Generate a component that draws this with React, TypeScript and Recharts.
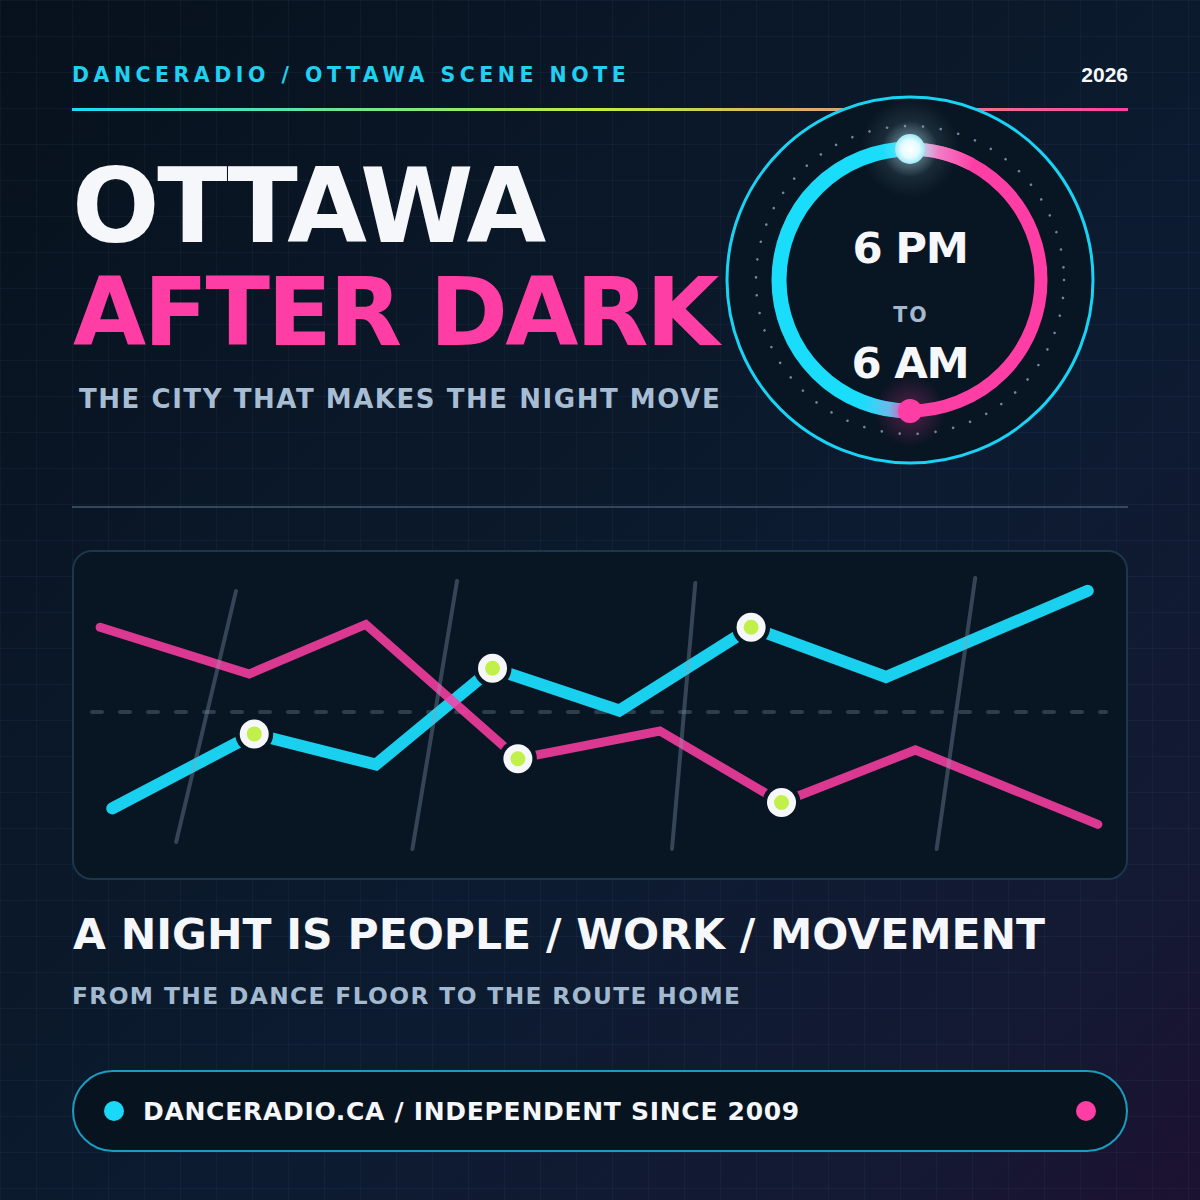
import { LineChart, Line, XAxis, YAxis, ReferenceLine } from "recharts";

// chart values (x: position through the night 0-100, y: activity level 0-100)
const cyanX = [2, 16, 28, 39.5, 52, 65, 78.3, 98.2];
const cyanY = [17, 42.5, 32, 65, 50.5, 79, 62, 91.5];
const pinkX = [0.8, 15.5, 27, 42, 56, 68, 81.2, 99.2];
const pinkY = [79, 63, 80, 34, 43.5, 19, 37, 11.5];
const cyanMarks = [1, 3, 5];
const pinkMarks = [3, 5];
const midLevel = 50;

// decorative slashes behind the lines
const slashTopX = [14.2, 36.0, 59.5, 87.1];
const slashTopY = [91.4, 94.9, 94.2, 95.9];
const slashBottomX = [8.3, 31.6, 57.2, 83.3];
const slashBottomY = [5.5, 3.1, 3.1, 3.1];

const CYAN = "#1ad0ef";
const PINK = "#ff3ea5";
const PANEL = "#081522";
const FONT = '"DejaVu Sans", Verdana, sans-serif';
const FONT_DIGITS = '"Liberation Sans", Arial, sans-serif';

const cyanData = cyanX.map((x, i) => ({ x, y: cyanY[i] }));
const pinkData = pinkX.map((x, i) => ({ x, y: pinkY[i] }));
const cyanMarkData = cyanMarks.map((i) => cyanData[i]);
const pinkMarkData = pinkMarks.map((i) => pinkData[i]);
const slashData = slashTopX.map((x, i) => [
  { x, y: slashTopY[i] },
  { x: slashBottomX[i], y: slashBottomY[i] },
]);

const renderMarker = (props: any) => {
  const { cx, cy, index } = props;
  return (
    <g key={`mk-${index}-${cx}`}>
      <circle cx={cx} cy={cy} r={19} fill={PANEL} />
      <circle cx={cx} cy={cy} r={14.5} fill="#f5f7fb" />
      <circle cx={cx} cy={cy} r={7.5} fill="#c2f04a" />
    </g>
  );
};

function NightChart() {
  return (
    <LineChart
      width={1056}
      height={330}
      margin={{ top: 16, right: 22, bottom: 22, left: 20 }}
    >
      <XAxis dataKey="x" type="number" domain={[0, 100]} hide />
      <YAxis type="number" domain={[0, 100]} hide />
      <ReferenceLine
        y={midLevel}
        stroke="#2e3d4c"
        strokeWidth={4}
        strokeDasharray="10 18"
        strokeLinecap="round"
      />
      <Line
        data={cyanData}
        dataKey="y"
        stroke={CYAN}
        strokeWidth={12}
        strokeLinecap="round"
        strokeLinejoin="miter"
        dot={false}
        activeDot={false}
        isAnimationActive={false}
      />
      <Line
        data={pinkData}
        dataKey="y"
        stroke={PINK}
        strokeOpacity={0.85}
        strokeWidth={9}
        strokeLinecap="round"
        strokeLinejoin="miter"
        dot={false}
        activeDot={false}
        isAnimationActive={false}
      />
      {slashData.map((d, i) => (
        <Line
          key={`slash-${i}`}
          data={d}
          dataKey="y"
          stroke="#8aa0b8"
          strokeOpacity={0.35}
          strokeWidth={4}
          strokeLinecap="round"
          dot={false}
          activeDot={false}
          isAnimationActive={false}
        />
      ))}
      <Line
        data={cyanMarkData}
        dataKey="y"
        stroke="none"
        dot={renderMarker}
        activeDot={false}
        isAnimationActive={false}
      />
      <Line
        data={pinkMarkData}
        dataKey="y"
        stroke="none"
        dot={renderMarker}
        activeDot={false}
        isAnimationActive={false}
      />
    </LineChart>
  );
}

function Clock() {
  const cx = 910;
  const cy = 280;
  const r = 131;
  const pt = (deg: number, rad = r) => {
    const a = (deg * Math.PI) / 180;
    return `${cx + rad * Math.cos(a)} ${cy + rad * Math.sin(a)}`;
  };
  return (
    <svg
      width={1200}
      height={500}
      style={{ position: "absolute", left: 0, top: 0 }}
    >
      <defs>
        <radialGradient id="topGlow" cx="50%" cy="50%" r="50%">
          <stop offset="0%" stopColor="#bff4ff" stopOpacity={0.55} />
          <stop offset="100%" stopColor="#bff4ff" stopOpacity={0} />
        </radialGradient>
        <radialGradient id="pinkGlow" cx="50%" cy="50%" r="50%">
          <stop offset="0%" stopColor={PINK} stopOpacity={0.3} />
          <stop offset="100%" stopColor={PINK} stopOpacity={0} />
        </radialGradient>
        <radialGradient id="knob" cx="50%" cy="50%" r="50%">
          <stop offset="0%" stopColor="#ffffff" />
          <stop offset="60%" stopColor="#e2fbff" />
          <stop offset="100%" stopColor="#9ee8f6" />
        </radialGradient>
        <linearGradient id="topFade" gradientUnits="userSpaceOnUse" x1={910} y1={0} x2={975} y2={0}>
          <stop offset="0%" stopColor="#a8ecf8" />
          <stop offset="45%" stopColor="#f27cc6" />
          <stop offset="100%" stopColor={PINK} />
        </linearGradient>
        <linearGradient id="bottomFade" gradientUnits="userSpaceOnUse" x1={860} y1={0} x2={910} y2={0}>
          <stop offset="0%" stopColor="#1adcfb" />
          <stop offset="60%" stopColor="#5ec6f2" />
          <stop offset="100%" stopColor={PINK} />
        </linearGradient>
      </defs>
      <circle cx={cx} cy={cy} r={183} fill={PANEL} stroke="#19d3f5" strokeWidth={3} />
      <circle cx={cx} cy={cy - 132} r={50} fill="url(#topGlow)" opacity={0.4} />
      <circle
        cx={cx}
        cy={cy}
        r={154}
        fill="none"
        stroke="#7286a0"
        strokeWidth={2.6}
        strokeDasharray="0.01 18"
        strokeLinecap="round"
      />
      <path d={`M ${pt(-90)} A ${r} ${r} 0 0 0 ${pt(90)}`} fill="none" stroke="#1adcfb" strokeWidth={15} />
      <path d={`M ${pt(-90)} A ${r} ${r} 0 0 1 ${pt(90)}`} fill="none" stroke={PINK} strokeWidth={13} />
      <path d={`M ${pt(-90)} A ${r} ${r} 0 0 1 ${pt(-62)}`} fill="none" stroke="url(#topFade)" strokeWidth={13} />
      <path d={`M ${pt(115)} A ${r} ${r} 0 0 0 ${pt(90)}`} fill="none" stroke="url(#bottomFade)" strokeWidth={14} />
      <circle cx={cx} cy={cy + r} r={36} fill="url(#pinkGlow)" />
      <circle cx={cx} cy={cy + r} r={12} fill={PINK} />
      <circle cx={cx} cy={cy - r} r={28} fill="url(#topGlow)" />
      <circle cx={cx} cy={cy - r} r={15} fill="url(#knob)" />
      <text x={cx} y={263} textAnchor="middle" fill="#f5f7fb" fontFamily={FONT} fontWeight={700} fontSize={43.4} letterSpacing={-1.3}>
        6 PM
      </text>
      <text x={cx + 1} y={322} textAnchor="middle" fill="#a4b9cf" fontFamily={FONT} fontWeight={700} fontSize={20.5} letterSpacing={2}>
        TO
      </text>
      <text x={cx} y={378} textAnchor="middle" fill="#f5f7fb" fontFamily={FONT} fontWeight={700} fontSize={43.4} letterSpacing={-1.3}>
        6 AM
      </text>
    </svg>
  );
}

const text = (
  top: number,
  left: number,
  size: number,
  color: string,
  spacing: number
): React.CSSProperties => ({
  position: "absolute",
  top,
  left,
  fontSize: size,
  lineHeight: 1,
  color,
  letterSpacing: spacing,
  fontFamily: FONT,
  fontWeight: 700,
  whiteSpace: "nowrap",
  margin: 0,
});

export default function App() {
  return (
    <div
      style={{
        position: "relative",
        width: 1200,
        height: 1200,
        overflow: "hidden",
        fontFamily: FONT,
        background:
          "linear-gradient(135deg, #07111c 0%, #0a1727 30%, #0c1b30 60%, #141a33 85%, #1c1130 100%)",
      }}
    >
      <style>{`body{margin:0}`}</style>
      <div
        style={{
          position: "absolute",
          inset: 0,
          backgroundImage:
            "linear-gradient(rgba(120,170,230,0.05) 1px, transparent 1px), linear-gradient(90deg, rgba(120,170,230,0.05) 1px, transparent 1px)",
          backgroundSize: "36px 36px",
          backgroundPosition: "0 0",
        }}
      />
      <div style={text(64.7, 72, 20.5, "#1fd0f0", 4.5)}>DANCERADIO / OTTAWA SCENE NOTE</div>
      <div style={{ ...text(64, 0, 21, "#f5f7fb", 0), fontFamily: FONT_DIGITS, left: "auto", right: 72 }}>2026</div>
      <div
        style={{
          position: "absolute",
          left: 72,
          top: 108,
          width: 1056,
          height: 3,
          background: "linear-gradient(90deg, #19dcf7 0%, #74e68c 28%, #c3ee3c 50%, #dca86e 72%, #ff3ea5 100%)",
        }}
      />
      <Clock />
      <div style={text(155, 72, 103, "#f5f7fb", -2.4)}>OTTAWA</div>
      <div style={text(265, 73, 94.6, PINK, -2.7)}>AFTER DARK</div>
      <div style={text(386, 79, 26, "#a7bdd3", 1.55)}>THE CITY THAT MAKES THE NIGHT MOVE</div>
      <div
        style={{
          position: "absolute",
          left: 72,
          top: 506,
          width: 1056,
          height: 2,
          background: "#34475b",
        }}
      />
      <div
        style={{
          position: "absolute",
          left: 72,
          top: 550,
          width: 1056,
          height: 330,
          boxSizing: "border-box",
          border: "2px solid #1c374b",
          borderRadius: 20,
          background: PANEL,
        }}
      />
      <div style={{ position: "absolute", left: 72, top: 550 }}>
        <NightChart />
      </div>
      <div style={text(914, 73, 42.5, "#f5f7fb", 0)}>A NIGHT IS PEOPLE / WORK / MOVEMENT</div>
      <div style={text(984.3, 72, 23.3, "#a3b9cf", 1.4)}>FROM THE DANCE FLOOR TO THE ROUTE HOME</div>
      <div
        style={{
          position: "absolute",
          left: 72,
          top: 1070,
          width: 1056,
          height: 82,
          boxSizing: "border-box",
          border: "2px solid #1a9cbf",
          borderRadius: 41,
          background: "#07131f",
        }}
      />
      <div
        style={{
          position: "absolute",
          left: 104,
          top: 1101,
          width: 20,
          height: 20,
          borderRadius: 10,
          background: "#1ad8f8",
        }}
      />
      <div
        style={{
          position: "absolute",
          left: 1076,
          top: 1101,
          width: 20,
          height: 20,
          borderRadius: 10,
          background: PINK,
        }}
      />
      <div style={text(1098.9, 143, 25, "#f5f7fb", 0.7)}>DANCERADIO.CA / INDEPENDENT SINCE 2009</div>
    </div>
  );
}
